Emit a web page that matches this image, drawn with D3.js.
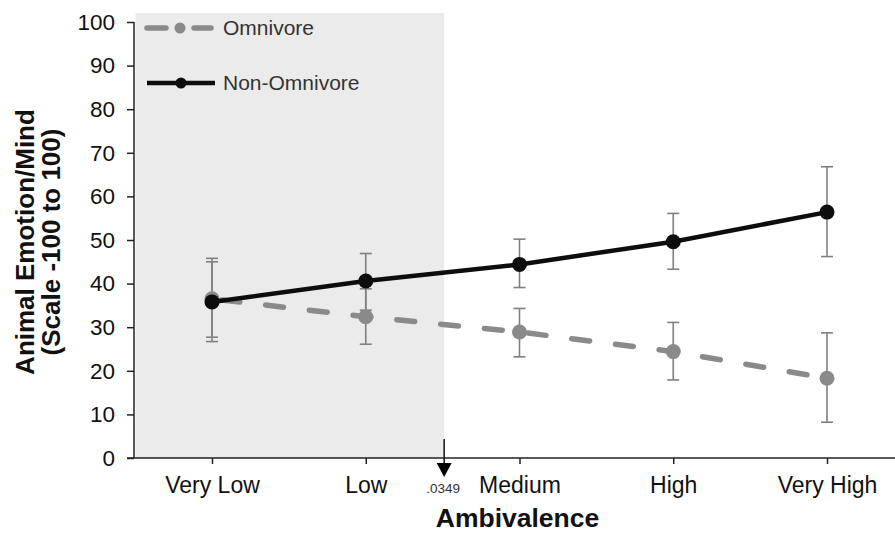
<!DOCTYPE html>
<html>
<head>
<meta charset="utf-8">
<script src="https://cdn.jsdelivr.net/npm/d3@7"></script>
<style>
  html, body { margin: 0; padding: 0; background: #fff; }
  svg { display: block; }
  text { font-family: "Liberation Sans", Arial, sans-serif; }
</style>
</head>
<body>
<svg id="chart" width="895" height="535"></svg>
<script>
const categories = ["Very Low", "Low", "Medium", "High", "Very High"];
const omnivoreMean = [36.5, 32.4, 28.9, 24.4, 18.3];
const omnivoreLow  = [26.7, 26.1, 23.2, 17.9, 8.2];
const omnivoreHigh = [45.8, 38.8, 34.3, 31.1, 28.7];
const nonOmnivoreMean = [35.8, 40.6, 44.4, 49.6, 56.4];
const nonOmnivoreLow  = [27.7, 33.9, 39.1, 43.3, 46.2];
const nonOmnivoreHigh = [45.0, 46.9, 50.2, 56.1, 66.8];
const yTicks = [0, 10, 20, 30, 40, 50, 60, 70, 80, 90, 100];
const seriesNames = ["Omnivore", "Non-Omnivore"];
const jnIndex = 1.51;        // Johnson-Neyman point, in category units
const jnLabel = ".0349";

const svg = d3.select("#chart");
const W = 895, H = 535;
const x = d3.scalePoint().domain(categories).range([212, 827]);
const y = d3.scaleLinear().domain([0, 100]).range([458, 22]);
const xIdx = d3.scaleLinear().domain([0, categories.length - 1]).range([212, 827]);
const axisX = 134;

// shaded region of significance
svg.append("rect")
  .attr("x", axisX + 1.5).attr("y", 13)
  .attr("width", xIdx(jnIndex) - axisX - 1.5)
  .attr("height", y(0) - 13)
  .attr("fill", "#ebebeb");

// y axis
const yAxis = d3.axisLeft(y).tickValues(yTicks).tickSize(7).tickPadding(12).tickFormat(d3.format("d"));
const gy = svg.append("g").attr("transform", `translate(${axisX},0)`).call(yAxis);
gy.select(".domain").remove();
gy.selectAll(".tick line").attr("stroke", "#222").attr("stroke-width", 1.5);
gy.selectAll(".tick text").attr("font-size", 22.5).attr("fill", "#111")
  .attr("font-family", "Liberation Sans, Arial, sans-serif");
svg.append("line").attr("x1", axisX).attr("x2", axisX).attr("y1", y(100)).attr("y2", y(0))
  .attr("stroke", "#222").attr("stroke-width", 1.5);

// x axis
const xAxis = d3.axisBottom(x).tickSize(6).tickPadding(13);
const gx = svg.append("g").attr("transform", `translate(0,${y(0)})`).call(xAxis);
gx.select(".domain").remove();
gx.selectAll(".tick line").attr("stroke", "#222").attr("stroke-width", 1.5);
gx.selectAll(".tick text").attr("font-size", 23).attr("fill", "#111")
  .attr("font-family", "Liberation Sans, Arial, sans-serif");
svg.append("line").attr("x1", 127).attr("x2", W).attr("y1", y(0)).attr("y2", y(0))
  .attr("stroke", "#222").attr("stroke-width", 1.5);

// axis titles
svg.append("text").attr("x", xIdx(2) - 2).attr("y", 527).attr("text-anchor", "middle")
  .attr("font-size", 26.5).attr("font-weight", "bold").attr("fill", "#111").text("Ambivalence");
const yt = svg.append("g").attr("transform", "translate(0,242) rotate(-90)");
yt.append("text").attr("x", 0).attr("y", 34).attr("text-anchor", "middle")
  .attr("font-size", 26).attr("font-weight", "bold").attr("fill", "#111").text("Animal Emotion/Mind");
yt.append("text").attr("x", 0).attr("y", 60).attr("text-anchor", "middle")
  .attr("font-size", 26).attr("font-weight", "bold").attr("fill", "#111").text("(Scale -100 to 100)");

// error bars
function errorBars(lo, hi) {
  const g = svg.append("g").attr("stroke", "#808080").attr("stroke-width", 1.6).attr("fill", "none");
  categories.forEach((c, i) => {
    const cx = x(c);
    g.append("line").attr("x1", cx).attr("x2", cx).attr("y1", y(hi[i])).attr("y2", y(lo[i]));
    g.append("line").attr("x1", cx - 6).attr("x2", cx + 6).attr("y1", y(hi[i])).attr("y2", y(hi[i]));
    g.append("line").attr("x1", cx - 6).attr("x2", cx + 6).attr("y1", y(lo[i])).attr("y2", y(lo[i]));
  });
}
errorBars(omnivoreLow, omnivoreHigh);
errorBars(nonOmnivoreLow, nonOmnivoreHigh);

const line = d3.line().x((d, i) => x(categories[i])).y(d => y(d));

// omnivore series
svg.append("path").datum(omnivoreMean).attr("d", line)
  .attr("fill", "none").attr("stroke", "#8a8a8a").attr("stroke-width", 5.5)
  .attr("stroke-dasharray", "18 26").attr("stroke-dashoffset", -10).attr("stroke-linecap", "round");
svg.append("g").selectAll("circle").data(omnivoreMean).join("circle")
  .attr("cx", (d, i) => x(categories[i])).attr("cy", d => y(d)).attr("r", 7.5).attr("fill", "#8a8a8a");

// non-omnivore series
svg.append("path").datum(nonOmnivoreMean).attr("d", line)
  .attr("fill", "none").attr("stroke", "#0d0d0d").attr("stroke-width", 4.5);
svg.append("g").selectAll("circle").data(nonOmnivoreMean).join("circle")
  .attr("cx", (d, i) => x(categories[i])).attr("cy", d => y(d)).attr("r", 7.5).attr("fill", "#0d0d0d");

// legend
const lg = svg.append("g");
lg.append("line").attr("x1", 147).attr("x2", 166).attr("y1", 28).attr("y2", 28)
  .attr("stroke", "#8a8a8a").attr("stroke-width", 5.5).attr("stroke-linecap", "round");
lg.append("line").attr("x1", 194).attr("x2", 211).attr("y1", 28).attr("y2", 28)
  .attr("stroke", "#8a8a8a").attr("stroke-width", 5.5).attr("stroke-linecap", "round");
lg.append("circle").attr("cx", 180).attr("cy", 28).attr("r", 5.5).attr("fill", "#8a8a8a");
lg.append("text").attr("x", 223).attr("y", 35).attr("font-size", 21).attr("fill", "#333").text(seriesNames[0]);
lg.append("line").attr("x1", 147).attr("x2", 215).attr("y1", 83).attr("y2", 83)
  .attr("stroke", "#0d0d0d").attr("stroke-width", 4.5);
lg.append("circle").attr("cx", 181).attr("cy", 83).attr("r", 5.5).attr("fill", "#0d0d0d");
lg.append("text").attr("x", 223).attr("y", 90).attr("font-size", 21).attr("fill", "#333").text(seriesNames[1]);

// Johnson-Neyman arrow
const ax = xIdx(jnIndex);
svg.append("line").attr("x1", ax).attr("x2", ax).attr("y1", 439).attr("y2", 464)
  .attr("stroke", "#111").attr("stroke-width", 1.5);
svg.append("path").attr("d", `M${ax - 7.5},463 L${ax + 7.5},463 L${ax},477 Z`).attr("fill", "#000");
svg.append("text").attr("x", ax - 1).attr("y", 493).attr("text-anchor", "middle")
  .attr("font-size", 13.5).attr("fill", "#333").text(jnLabel);
</script>
</body>
</html>
